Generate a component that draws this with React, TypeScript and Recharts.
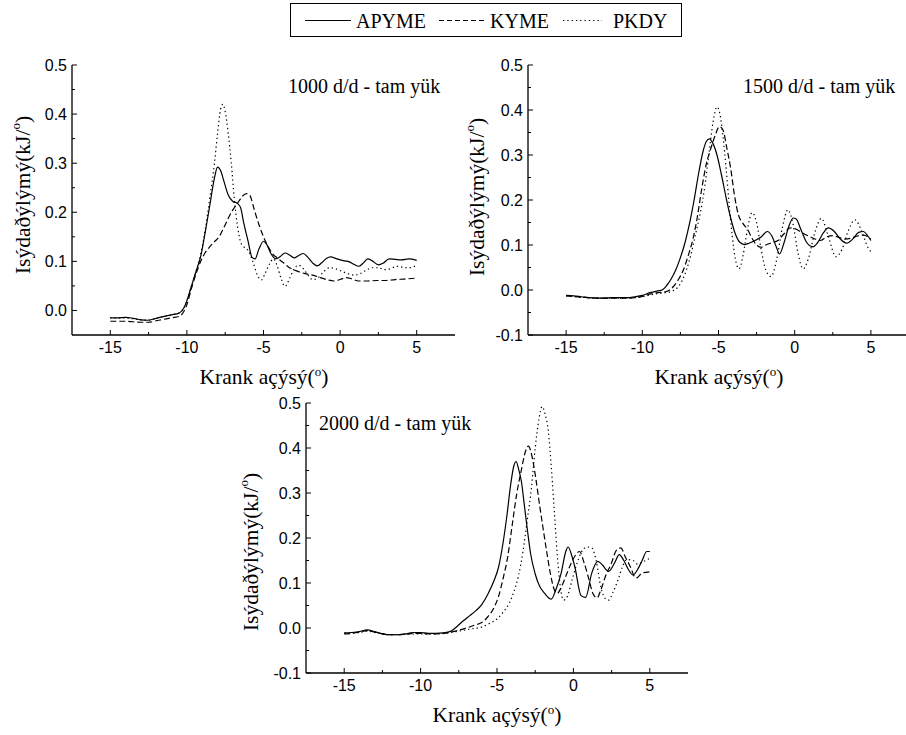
import { LineChart, Line, XAxis, YAxis } from 'recharts'

type Pt = [number, number]

// krank açısı (derece) ekseni
const xTicks = [-15, -12.5, -10, -7.5, -5, -2.5, 0, 2.5, 5]
const yTicks1000 = [0, 0.05, 0.1, 0.15, 0.2, 0.25, 0.3, 0.35, 0.4, 0.45, 0.5]
const yTicksWide = [-0.1, -0.05, 0, 0.05, 0.1, 0.15, 0.2, 0.25, 0.3, 0.35, 0.4, 0.45, 0.5]

const seriesNames = ['APYME', 'KYME', 'PKDY']
const panelTitles = ['1000 d/d - tam yük', '1500 d/d - tam yük', '2000 d/d - tam yük']

// 1000 d/d
const apyme1000: Pt[] = [
  [-15, -0.015], [-14.5, -0.015], [-14, -0.014], [-13.5, -0.016], [-13, -0.019], [-12.6, -0.02],
  [-12, -0.016], [-11.5, -0.012], [-11, -0.009], [-10.5, -0.005], [-10.2, 0.005], [-10, 0.02],
  [-9.7, 0.05], [-9.4, 0.08], [-9.1, 0.11], [-8.8, 0.16], [-8.5, 0.215], [-8.2, 0.27], [-8.0, 0.292],
  [-7.8, 0.285], [-7.6, 0.265], [-7.3, 0.235], [-7.0, 0.222], [-6.7, 0.218], [-6.5, 0.21], [-6.3, 0.18],
  [-6.0, 0.14], [-5.75, 0.108], [-5.55, 0.105], [-5.3, 0.125], [-5.0, 0.141], [-4.8, 0.135], [-4.5, 0.115],
  [-4.2, 0.105], [-3.9, 0.11], [-3.6, 0.117], [-3.3, 0.113], [-3.0, 0.107], [-2.7, 0.112], [-2.4, 0.116],
  [-2.1, 0.108], [-1.8, 0.097], [-1.5, 0.091], [-1.2, 0.097], [-0.9, 0.106], [-0.6, 0.109], [-0.3, 0.106],
  [0, 0.103], [0.3, 0.101], [0.6, 0.099], [0.9, 0.094], [1.2, 0.09], [1.5, 0.096], [1.8, 0.105],
  [2.1, 0.101], [2.5, 0.093], [2.8, 0.096], [3.2, 0.105], [3.6, 0.104], [4.0, 0.103], [4.5, 0.105], [5.0, 0.102],
]
const kyme1000: Pt[] = [
  [-15, -0.022], [-14, -0.022], [-13, -0.024], [-12.5, -0.024], [-12, -0.021], [-11.5, -0.018],
  [-11, -0.015], [-10.5, -0.012], [-10.2, -0.002], [-10, 0.012], [-9.7, 0.045], [-9.4, 0.075],
  [-9.1, 0.1], [-8.8, 0.118], [-8.5, 0.13], [-8.2, 0.14], [-7.9, 0.15], [-7.6, 0.168], [-7.3, 0.188],
  [-7.0, 0.205], [-6.7, 0.218], [-6.4, 0.232], [-6.1, 0.238], [-5.9, 0.235], [-5.6, 0.205], [-5.3, 0.175],
  [-5.0, 0.15], [-4.7, 0.13], [-4.4, 0.115], [-4.1, 0.107], [-3.7, 0.097], [-3.3, 0.087], [-2.8, 0.08],
  [-2.3, 0.075], [-1.8, 0.072], [-1.3, 0.067], [-0.8, 0.062], [-0.4, 0.06], [0, 0.063], [0.4, 0.067],
  [0.8, 0.064], [1.2, 0.06], [1.8, 0.06], [2.4, 0.061], [3.0, 0.061], [3.6, 0.063], [4.2, 0.064], [5.0, 0.066],
]
const pkdy1000: Pt[] = [
  [-15, -0.015], [-14.5, -0.015], [-14, -0.015], [-13.5, -0.017], [-13, -0.019], [-12.5, -0.02],
  [-12, -0.016], [-11.5, -0.012], [-11, -0.009], [-10.5, -0.005], [-10.2, 0.005], [-10, 0.02],
  [-9.7, 0.05], [-9.4, 0.08], [-9.1, 0.115], [-8.8, 0.165], [-8.5, 0.23], [-8.2, 0.3], [-8.0, 0.36],
  [-7.8, 0.41], [-7.65, 0.42], [-7.5, 0.405], [-7.3, 0.36], [-7.1, 0.3], [-6.9, 0.225], [-6.7, 0.172],
  [-6.5, 0.14], [-6.3, 0.13], [-6.0, 0.122], [-5.7, 0.1], [-5.4, 0.072], [-5.15, 0.062], [-4.9, 0.075],
  [-4.6, 0.095], [-4.35, 0.105], [-4.1, 0.09], [-3.85, 0.065], [-3.6, 0.049], [-3.3, 0.065], [-3.0, 0.085],
  [-2.7, 0.092], [-2.4, 0.085], [-2.1, 0.072], [-1.8, 0.063], [-1.5, 0.065], [-1.1, 0.078], [-0.7, 0.087],
  [-0.3, 0.085], [0.1, 0.08], [0.5, 0.075], [0.9, 0.072], [1.3, 0.075], [1.7, 0.082], [2.1, 0.087],
  [2.5, 0.087], [2.9, 0.083], [3.3, 0.085], [3.7, 0.09], [4.1, 0.088], [4.5, 0.087], [5.0, 0.092],
]

// 1500 d/d
const apyme1500: Pt[] = [
  [-15, -0.012], [-14.5, -0.013], [-14, -0.015], [-13.5, -0.017], [-13, -0.018], [-12.5, -0.018],
  [-12, -0.017], [-11.5, -0.017], [-11, -0.017], [-10.5, -0.015], [-10, -0.012], [-9.5, -0.006],
  [-9, -0.002], [-8.7, 0.0], [-8.4, 0.01], [-8.1, 0.025], [-7.8, 0.045], [-7.5, 0.072], [-7.2, 0.105],
  [-6.9, 0.148], [-6.6, 0.2], [-6.3, 0.26], [-6.0, 0.31], [-5.8, 0.33], [-5.6, 0.336], [-5.4, 0.328],
  [-5.1, 0.3], [-4.8, 0.255], [-4.5, 0.205], [-4.2, 0.16], [-3.9, 0.125], [-3.6, 0.106], [-3.3, 0.101],
  [-3.0, 0.104], [-2.6, 0.11], [-2.2, 0.118], [-1.8, 0.13], [-1.5, 0.12], [-1.2, 0.095], [-1.0, 0.08],
  [-0.7, 0.105], [-0.4, 0.14], [-0.1, 0.16], [0.1, 0.158], [0.4, 0.135], [0.8, 0.105], [1.2, 0.096],
  [1.5, 0.105], [1.9, 0.128], [2.2, 0.138], [2.6, 0.13], [3.0, 0.113], [3.4, 0.104], [3.8, 0.113],
  [4.2, 0.128], [4.5, 0.13], [4.8, 0.12], [5.0, 0.11],
]
const kyme1500: Pt[] = [
  [-15, -0.013], [-14, -0.016], [-13, -0.018], [-12, -0.018], [-11, -0.018], [-10, -0.014],
  [-9.5, -0.009], [-9, -0.006], [-8.5, -0.004], [-8.2, 0.0], [-7.9, 0.01], [-7.6, 0.025], [-7.3, 0.045],
  [-7.0, 0.075], [-6.7, 0.11], [-6.4, 0.16], [-6.1, 0.225], [-5.8, 0.28], [-5.5, 0.315], [-5.2, 0.345],
  [-4.95, 0.363], [-4.7, 0.355], [-4.45, 0.315], [-4.2, 0.27], [-3.95, 0.21], [-3.7, 0.168], [-3.4, 0.148],
  [-3.1, 0.135], [-2.8, 0.115], [-2.5, 0.1], [-2.2, 0.095], [-1.9, 0.1], [-1.5, 0.105], [-1.1, 0.11],
  [-0.7, 0.125], [-0.3, 0.138], [0.1, 0.135], [0.5, 0.127], [0.9, 0.12], [1.3, 0.114], [1.7, 0.11],
  [2.1, 0.118], [2.5, 0.121], [2.9, 0.117], [3.3, 0.113], [3.7, 0.115], [4.1, 0.12], [4.5, 0.122], [5.0, 0.113],
]
const pkdy1500: Pt[] = [
  [-15, -0.013], [-14, -0.016], [-13, -0.018], [-12, -0.018], [-11, -0.018], [-10, -0.015],
  [-9.5, -0.011], [-9, -0.008], [-8.5, -0.006], [-8.0, -0.002], [-7.7, 0.005], [-7.4, 0.02], [-7.1, 0.045],
  [-6.8, 0.08], [-6.5, 0.125], [-6.2, 0.17], [-5.9, 0.23], [-5.6, 0.31], [-5.35, 0.375], [-5.1, 0.407],
  [-4.9, 0.39], [-4.7, 0.34], [-4.5, 0.27], [-4.3, 0.19], [-4.1, 0.12], [-3.9, 0.07], [-3.65, 0.047],
  [-3.4, 0.075], [-3.1, 0.135], [-2.8, 0.172], [-2.5, 0.15], [-2.2, 0.09], [-1.9, 0.045], [-1.55, 0.03],
  [-1.2, 0.065], [-0.8, 0.14], [-0.45, 0.178], [-0.1, 0.145], [0.2, 0.085], [0.55, 0.047], [0.9, 0.07],
  [1.3, 0.125], [1.75, 0.159], [2.2, 0.12], [2.7, 0.074], [3.1, 0.09], [3.5, 0.13], [3.95, 0.156],
  [4.4, 0.13], [4.8, 0.095], [5.0, 0.085],
]

// 2000 d/d
const apyme2000: Pt[] = [
  [-15, -0.011], [-14.5, -0.01], [-14, -0.008], [-13.5, -0.004], [-13, -0.008], [-12.5, -0.013],
  [-12, -0.015], [-11.5, -0.015], [-11, -0.013], [-10.5, -0.01], [-10, -0.01], [-9.5, -0.012],
  [-9, -0.012], [-8.5, -0.011], [-8, -0.007], [-7.6, 0.004], [-7.2, 0.016], [-6.8, 0.027], [-6.4, 0.038],
  [-6.0, 0.052], [-5.6, 0.075], [-5.2, 0.105], [-4.9, 0.135], [-4.6, 0.19], [-4.35, 0.25], [-4.1, 0.32],
  [-3.9, 0.36], [-3.75, 0.37], [-3.6, 0.355], [-3.4, 0.325], [-3.2, 0.27], [-3.0, 0.215], [-2.8, 0.165],
  [-2.5, 0.12], [-2.2, 0.092], [-1.9, 0.078], [-1.45, 0.064], [-1.15, 0.085], [-0.8, 0.122], [-0.5, 0.17],
  [-0.35, 0.18], [-0.1, 0.16], [0.1, 0.135], [0.5, 0.072], [0.8, 0.068], [1.2, 0.122], [1.6, 0.148],
  [1.9, 0.14], [2.3, 0.126], [2.7, 0.145], [3.0, 0.163], [3.3, 0.15], [3.6, 0.13], [3.9, 0.118],
  [4.2, 0.13], [4.5, 0.15], [4.8, 0.17], [5.0, 0.17],
]
const kyme2000: Pt[] = [
  [-15, -0.013], [-14.5, -0.012], [-14, -0.009], [-13.5, -0.006], [-13, -0.009], [-12.5, -0.013],
  [-12, -0.015], [-11.5, -0.015], [-11, -0.014], [-10.5, -0.012], [-10, -0.012], [-9.5, -0.013],
  [-9, -0.013], [-8.5, -0.012], [-8, -0.009], [-7.5, -0.005], [-7.0, 0.0], [-6.5, 0.006], [-6.0, 0.012],
  [-5.6, 0.025], [-5.2, 0.045], [-4.9, 0.07], [-4.6, 0.11], [-4.3, 0.158], [-4.0, 0.23], [-3.7, 0.3],
  [-3.4, 0.352], [-3.2, 0.385], [-2.95, 0.404], [-2.7, 0.38], [-2.45, 0.33], [-2.2, 0.27], [-2.0, 0.225],
  [-1.75, 0.17], [-1.5, 0.12], [-1.25, 0.085], [-1.05, 0.077], [-0.8, 0.09], [-0.5, 0.115], [-0.2, 0.14],
  [0.1, 0.16], [0.4, 0.17], [0.7, 0.145], [1.0, 0.11], [1.3, 0.075], [1.55, 0.067], [1.8, 0.085],
  [2.1, 0.115], [2.5, 0.145], [2.8, 0.172], [3.1, 0.178], [3.4, 0.158], [3.7, 0.138], [4.1, 0.111],
  [4.5, 0.122], [5.0, 0.125],
]
const pkdy2000: Pt[] = [
  [-15, -0.012], [-14, -0.01], [-13.5, -0.007], [-13, -0.01], [-12, -0.015], [-11, -0.014],
  [-10, -0.013], [-9, -0.013], [-8, -0.01], [-7.5, -0.007], [-7.0, -0.004], [-6.5, -0.001],
  [-6.0, 0.002], [-5.5, 0.01], [-5.0, 0.02], [-4.6, 0.035], [-4.2, 0.055], [-3.9, 0.08], [-3.6, 0.115],
  [-3.3, 0.17], [-3.0, 0.245], [-2.75, 0.31], [-2.5, 0.4], [-2.25, 0.465], [-2.05, 0.492], [-1.85, 0.475],
  [-1.65, 0.44], [-1.45, 0.36], [-1.25, 0.26], [-1.05, 0.16], [-0.85, 0.09], [-0.65, 0.062], [-0.4, 0.07],
  [-0.1, 0.105], [0.2, 0.14], [0.5, 0.167], [0.9, 0.18], [1.2, 0.178], [1.5, 0.148], [1.8, 0.09],
  [2.1, 0.065], [2.3, 0.062], [2.6, 0.08], [2.9, 0.105], [3.2, 0.135], [3.5, 0.152], [3.9, 0.15],
  [4.2, 0.142], [4.6, 0.148], [5.0, 0.155],
]

const lineStyles = [
  { strokeDasharray: undefined as string | undefined },
  { strokeDasharray: '6 3' },
  { strokeDasharray: '1.3 3' },
]

const TICK_FONT = '"Liberation Sans", Arial, sans-serif'
const SERIF = '"Liberation Serif", "Times New Roman", serif'
const TICK_SIZE = 16
const LABEL_SIZE = 21.5
const isMajorX = (v: number) => Math.abs(v % 5) < 1e-6
const isMajorY = (v: number) => Math.abs(v * 10 - Math.round(v * 10)) < 1e-6

const BottomTick = (p: any) => {
  const major = isMajorX(p.payload.value)
  return (
    <g>
      <line x1={p.x} x2={p.x} y1={p.y} y2={p.y - (major ? 5 : 3)} stroke="#000" />
      {major && (
        <text x={p.x} y={p.y + 18} textAnchor="middle" fontSize={TICK_SIZE} fontFamily={TICK_FONT} fill="#000">
          {p.payload.value}
        </text>
      )}
    </g>
  )
}
const TopTick = (p: any) => {
  const major = isMajorX(p.payload.value)
  return <line x1={p.x} x2={p.x} y1={p.y} y2={p.y + (major ? 5 : 3)} stroke="#000" />
}
const LeftTick = (p: any) => {
  const major = isMajorY(p.payload.value)
  return (
    <g>
      <line x1={p.x} x2={p.x + (major ? 5 : 3)} y1={p.y} y2={p.y} stroke="#000" />
      {major && (
        <text x={p.x - 5} y={p.y + 5.5} textAnchor="end" fontSize={TICK_SIZE} fontFamily={TICK_FONT} fill="#000">
          {p.payload.value.toFixed(1)}
        </text>
      )}
    </g>
  )
}
const RightTick = (p: any) => {
  const major = isMajorY(p.payload.value)
  return <line x1={p.x} x2={p.x - (major ? 5 : 3)} y1={p.y} y2={p.y} stroke="#000" />
}

const axisLine = { stroke: '#000', strokeWidth: 1.3 }

interface PanelProps {
  left: number
  top: number
  w: number
  h: number
  yDomain: [number, number]
  yTicks: number[]
  series: Pt[][]
}

function Panel({ left, top, w, h, yDomain, yTicks, series }: PanelProps) {
  const YW = 60
  const MT = 10
  const MR = 10
  const XH = 40
  return (
    <div style={{ position: 'absolute', left: left - YW, top: top - MT }}>
      <LineChart width={YW + w + MR} height={MT + h + XH} margin={{ top: MT, right: MR, bottom: 0, left: 0 }}>
        <XAxis
          dataKey="x"
          type="number"
          domain={[-17.5, 7.5]}
          ticks={xTicks}
          interval={0}
          allowDataOverflow
          height={XH}
          tickSize={0}
          tickMargin={0}
          tickLine={false}
          axisLine={axisLine}
          tick={BottomTick}
        />
        <XAxis
          xAxisId="top"
          orientation="top"
          type="number"
          domain={[-17.5, 7.5]}
          ticks={xTicks}
          interval={0}
          allowDataOverflow
          height={0}
          tickSize={0}
          tickMargin={0}
          tickLine={false}
          axisLine={axisLine}
          tick={TopTick}
        />
        <YAxis
          type="number"
          domain={yDomain}
          ticks={yTicks}
          interval={0}
          allowDataOverflow
          width={YW}
          tickSize={0}
          tickMargin={0}
          tickLine={false}
          axisLine={axisLine}
          tick={LeftTick}
        />
        <YAxis
          yAxisId="right"
          orientation="right"
          type="number"
          domain={yDomain}
          ticks={yTicks}
          interval={0}
          allowDataOverflow
          width={0}
          tickSize={0}
          tickMargin={0}
          tickLine={false}
          axisLine={axisLine}
          tick={RightTick}
        />
        {series.map((pts, i) => (
          <Line
            key={seriesNames[i]}
            name={seriesNames[i]}
            data={pts.map(([x, y]) => ({ x, y }))}
            dataKey="y"
            type="monotone"
            stroke="#000"
            strokeWidth={1.2}
            strokeDasharray={lineStyles[i].strokeDasharray}
            dot={false}
            activeDot={false}
            isAnimationActive={false}
          />
        ))}
      </LineChart>
    </div>
  )
}

const YLabel = ({ x, y }: { x: number; y: number }) => (
  <text transform={`translate(${x},${y}) rotate(-90)`} textAnchor="middle" dominantBaseline="central" fontSize={LABEL_SIZE} fontFamily={SERIF}>
    Isýdaðýlýmý(kJ/<tspan dy={-8} fontSize={13}>o</tspan><tspan dy={8}>)</tspan>
  </text>
)
const XLabel = ({ x, y }: { x: number; y: number }) => (
  <text x={x} y={y} textAnchor="middle" fontSize={LABEL_SIZE} fontFamily={SERIF}>
    Krank açýsý(<tspan dy={-8} fontSize={13}>o</tspan><tspan dy={8}>)</tspan>
  </text>
)
const Title = ({ x, y, t }: { x: number; y: number; t: string }) => (
  <text x={x} y={y} fontSize={20} fontFamily={SERIF}>{t}</text>
)

export default function App() {
  return (
    <div style={{ position: 'absolute', left: 0, top: 0, width: 906, height: 735, overflow: 'hidden', background: '#fff' }}>
      <Panel left={72} top={65} w={383} h={270} yDomain={[-0.05, 0.5]} yTicks={yTicks1000} series={[apyme1000, kyme1000, pkdy1000]} />
      <Panel left={528} top={65} w={381} h={270} yDomain={[-0.1, 0.5]} yTicks={yTicksWide} series={[apyme1500, kyme1500, pkdy1500]} />
      <Panel left={306} top={403} w={382} h={270} yDomain={[-0.1, 0.5]} yTicks={yTicksWide} series={[apyme2000, kyme2000, pkdy2000]} />
      <svg width={906} height={735} style={{ position: 'absolute', left: 0, top: 0, pointerEvents: 'none' }}>
        {/* legend */}
        <rect x={290.5} y={3.5} width={391} height={33} fill="#fff" stroke="#000" strokeWidth={1} />
        <line x1={305} x2={351} y1={20.5} y2={20.5} stroke="#000" strokeWidth={1.2} />
        <text x={356} y={27.5} fontSize={20} fontFamily={SERIF}>{seriesNames[0]}</text>
        <line x1={439} x2={487} y1={20.5} y2={20.5} stroke="#000" strokeWidth={1.2} strokeDasharray="5 3" />
        <text x={490} y={27.5} fontSize={20} fontFamily={SERIF}>{seriesNames[1]}</text>
        <line x1={563} x2={602} y1={20.5} y2={20.5} stroke="#000" strokeWidth={1.2} strokeDasharray="1.3 3" />
        <text x={613} y={27.5} fontSize={20} fontFamily={SERIF}>{seriesNames[2]}</text>

        <Title x={288} y={93} t={panelTitles[0]} />
        <Title x={743} y={93} t={panelTitles[1]} />
        <Title x={319} y={430} t={panelTitles[2]} />

        <YLabel x={23} y={195} />
        <YLabel x={477} y={197} />
        <YLabel x={251} y={552} />

        <XLabel x={264} y={384} />
        <XLabel x={719} y={384} />
        <XLabel x={497} y={722} />
      </svg>
    </div>
  )
}
